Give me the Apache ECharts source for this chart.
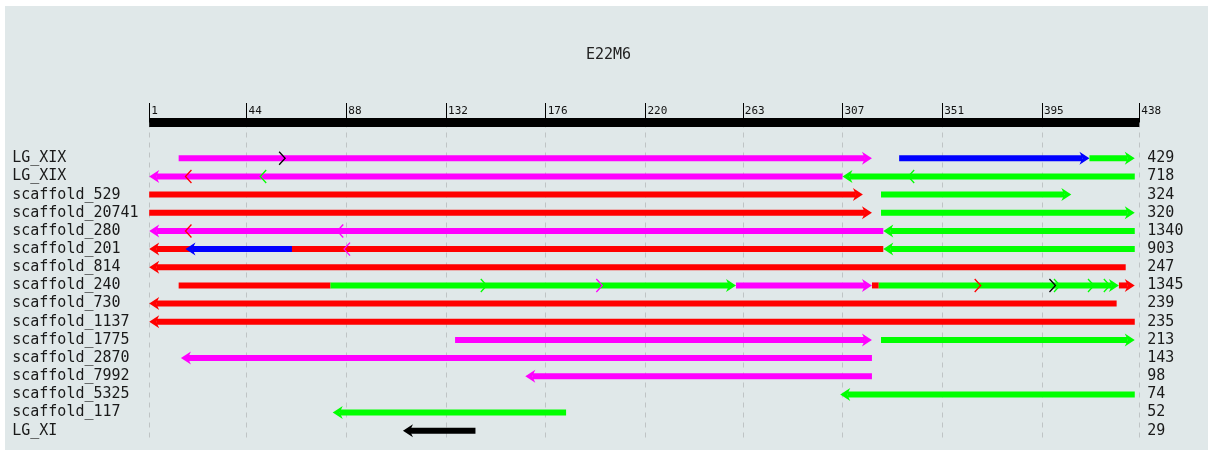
<!DOCTYPE html>
<html>
<head>
<meta charset="utf-8">
<script src="https://cdn.jsdelivr.net/npm/echarts@6/dist/echarts.min.js"></script>
<style>
html,body{margin:0;padding:0;background:#fff;}
#c{width:1211px;height:450px;}
</style>
</head>
<body>
<div id="c"></div>
<script>
// ---- data ----
const title = 'E22M6';
const rowNames = ['LG_XIX','LG_XIX','scaffold_529','scaffold_20741','scaffold_280','scaffold_201',
  'scaffold_814','scaffold_240','scaffold_730','scaffold_1137','scaffold_1775','scaffold_2870',
  'scaffold_7992','scaffold_5325','scaffold_117','LG_XI'];
const rowTotals = [429,718,324,320,1340,903,247,1345,239,235,213,143,98,74,52,29];
const tickValues = [1,44,88,132,176,220,263,307,351,395,438];
// segments: [row, start, end, head (1 right, -1 left, 0 none), group]
const segments = [
  [0,14,320,1,'M'],[0,332,416,1,'B'],[0,416,436,1,'G'],
  [1,1,307,-1,'M'],[1,307,436,-1,'G'],
  [2,1,316,1,'R'],[2,324,408,1,'G'],
  [3,1,320,1,'R'],[3,324,436,1,'G'],
  [4,1,325,-1,'M'],[4,325,436,-1,'G'],
  [5,1,325,-1,'R'],[5,17,64,-1,'B'],[5,325,436,-1,'G'],
  [6,1,432,-1,'R'],
  [7,14,81,0,'R'],[7,81,260,1,'G'],[7,260,320,1,'M'],[7,320,323,0,'R'],[7,323,429,1,'G'],[7,429,436,1,'R'],
  [8,1,428,-1,'R'],
  [9,1,436,-1,'R'],
  [10,136,320,1,'M'],[10,324,436,1,'G'],
  [11,15,320,-1,'M'],
  [12,167,320,-1,'M'],
  [13,306,436,-1,'G'],
  [14,82,185,-1,'G'],
  [15,113,145,-1,'K']
];
// small direction marks: [row, position, direction, group]
const marks = [
  [0,61,1,'K'],
  [1,17,-1,'R'],[1,50,-1,'G'],[1,336,-1,'G'],
  [4,17,-1,'R'],[4,84,-1,'M'],
  [5,87,-1,'M'],
  [7,150,1,'G'],[7,201,1,'M'],[7,368,1,'R'],[7,401,1,'K'],[7,403,1,'G'],[7,418,1,'G'],[7,425,1,'G']
];
// ---- styles ----
const palette = {M:'#ff00ff', R:'#ff0000', G:'#00ff00', B:'#0000ff', K:'#000000'};
const mono = 'DejaVu Sans Mono';
const rowIdx = rowNames.map((_, i) => i);

const chart = echarts.init(document.getElementById('c'), null, {renderer:'canvas'});

function renderSeg(params, api) {
  const row = api.value(0), s = api.value(1), e = api.value(2), head = api.value(3);
  const color = palette[segments[params.dataIndex][4]];
  const p0 = api.coord([s, row]), p1 = api.coord([e, row]);
  const y = p0[1], hs = 3, hh = 6.5, hl = 10, notch = 7;
  const x0 = p0[0], x1 = p1[0];
  const children = [];
  let sx0 = x0, sx1 = x1;
  if (head === 1) sx1 = x1 - notch;
  if (head === -1) sx0 = x0 + notch;
  children.push({type:'rect', shape:{x:sx0, y:y-hs, width:Math.max(0, sx1-sx0), height:hs*2},
    style:{fill:color}});
  if (head === 1) {
    children.push({type:'polygon', shape:{points:[[x1-hl,y-hh],[x1,y],[x1-hl,y+hh],[x1-notch,y]]},
      style:{fill:color}});
  } else if (head === -1) {
    children.push({type:'polygon', shape:{points:[[x0+hl,y-hh],[x0,y],[x0+hl,y+hh],[x0+notch,y]]},
      style:{fill:color}});
  }
  return {type:'group', children};
}

function renderMark(params, api) {
  const row = api.value(0), pos = api.value(1), dir = api.value(2);
  const color = palette[marks[params.dataIndex][3]];
  const p = api.coord([pos, row]);
  const x = p[0], y = p[1];
  const w = 6 * dir;
  return {type:'polyline', shape:{points:[[x-w,y-6.5],[x,y],[x-w,y+6.5]]},
    style:{stroke:color, lineWidth:1.3, fill:null}};
}

chart.setOption({
  backgroundColor:'#ffffff',
  animation:false,
  graphic:[{type:'rect', z:-10, silent:true, shape:{x:5, y:6, width:1203, height:444}, style:{fill:'#e0e8e9'}}],
  title:{text:title, left:581, top:43, textStyle:{fontFamily:mono, fontSize:15, fontWeight:'normal', color:'#222'}},
  grid:{left:149.2, right:71.7, top:122.5, bottom:10},
  xAxis:{
    type:'value', min:1, max:438, position:'top',
    axisLine:{show:true, onZero:false, lineStyle:{color:'#000', width:9, cap:'butt'}},
    axisTick:{show:true, customValues:tickValues, length:19.5, lineStyle:{color:'#000', width:1}},
    axisLabel:{show:true, customValues:tickValues, align:'left', verticalAlign:'bottom', margin:6,
      padding:[0,0,0,2], fontFamily:mono, fontSize:11, color:'#111'},
    splitLine:{show:true, lineStyle:{color:'#bfc4c5', width:1, type:[5,5]}}
  },
  yAxis:[{
    type:'value', inverse:true, min:-1.971, max:15.51, position:'left',
    axisLine:{show:false}, axisTick:{show:false}, splitLine:{show:false},
    axisLabel:{show:true, customValues:rowIdx, align:'left', margin:137,
      formatter:(v) => rowNames[Math.round(v)], fontFamily:mono, fontSize:15, color:'#1a1a1a'}
  },{
    type:'value', inverse:true, min:-1.971, max:15.51, position:'right',
    axisLine:{show:false}, axisTick:{show:false}, splitLine:{show:false},
    axisLabel:{show:true, customValues:rowIdx, align:'left', margin:8,
      formatter:(v) => String(rowTotals[Math.round(v)]), fontFamily:mono, fontSize:15, color:'#1a1a1a'}
  }],
  series:[
    {type:'custom', renderItem:renderSeg, data:segments.map(d => [d[0], d[1], d[2], d[3]]), z:2},
    {type:'custom', renderItem:renderMark, data:marks.map(d => [d[0], d[1], d[2]]), z:3}
  ]
});
</script>
</body>
</html>
